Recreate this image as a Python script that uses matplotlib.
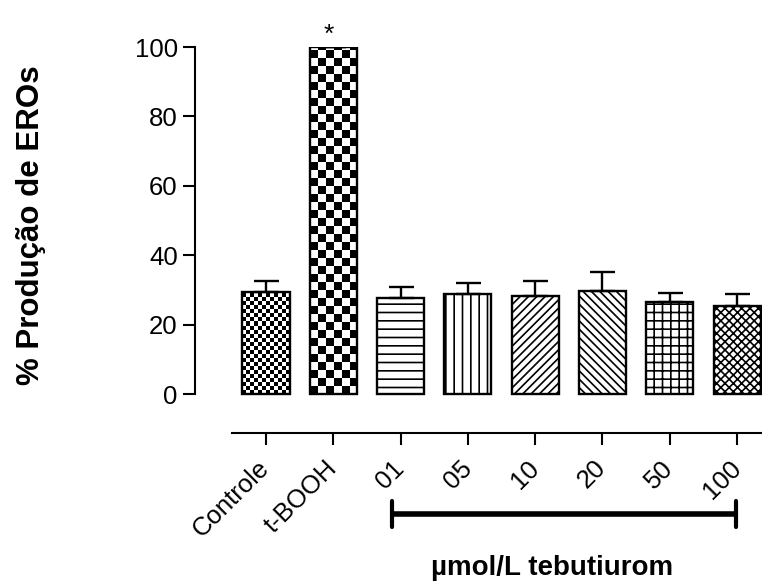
import numpy as np
import matplotlib
matplotlib.use("Agg")
import matplotlib.pyplot as plt
import matplotlib.transforms as mtransforms

categories = ["Controle", "t-BOOH", "01", "05", "10", "20", "50", "100"]
means = [29.4, 100.0, 27.7, 28.8, 28.2, 29.7, 26.5, 25.4]
errors = [3.2, 0.0, 3.1, 3.2, 4.4, 5.5, 2.6, 3.4]
hatches = [None, None, "--", "||", "////", "\\\\\\\\", "++", "xxxx"]
group_label = "µmol/L tebutiurom"
ylabel = "% Produção de EROs"

plt.rcParams['font.family'] = ['Liberation Sans', 'DejaVu Sans']
plt.rcParams['hatch.linewidth'] = 1.2

fig = plt.figure(figsize=(7.62, 5.85), dpi=100)
ax = fig.add_axes([195/762, 1-433/585, 1-195/762, (433-47)/585])

x = np.arange(len(categories))
width = 0.70
bars = ax.bar(x, means, width=width, facecolor='none', edgecolor='black',
              linewidth=1.7, zorder=3)
for b, h in zip(bars, hatches):
    if h:
        b.set_hatch(h)

# checker patterns for first two bars
def checker(bar, ncols, cell_h):
    x0 = bar.get_x()
    w = bar.get_width()
    hgt = bar.get_height()
    nrows = int(np.ceil(hgt / cell_h)) + 1
    pat = (np.add.outer(np.arange(nrows), np.arange(ncols)) % 2).astype(float)
    im = ax.imshow(pat, cmap='gray', vmin=0, vmax=1, interpolation='nearest',
                   extent=(x0, x0 + w, 0, nrows * cell_h), origin='lower',
                   aspect='auto', zorder=2)
    im.set_clip_path(bar)

checker(bars[0], 12, 1.15)
checker(bars[1], 6, 2.3)

ax.errorbar(x, means, yerr=[np.zeros(len(errors)), errors], fmt='none',
            ecolor='black', elinewidth=1.7, capsize=9, capthick=1.7, zorder=4)

ax.set_xlim(-1.055, 7.37)
ax.set_ylim(-11.2, 100)
ax.spines['top'].set_visible(False)
ax.spines['right'].set_visible(False)
ax.spines['left'].set_bounds(0, 100)
ax.spines['bottom'].set_bounds(-0.505, 7.37)
for s in ('left', 'bottom'):
    ax.spines[s].set_linewidth(1.5)

ax.set_yticks([0, 20, 40, 60, 80, 100])
ax.set_xticks(x)
ax.set_xticklabels(categories, rotation=45, ha='right', va='center',
                   rotation_mode='anchor')
ax.tick_params(axis='both', labelsize=18.5, width=1.5, length=8.5, direction='out')
ax.tick_params(axis='y', pad=4)
ax.tick_params(axis='x', pad=14)

ax.set_ylabel(ylabel, fontsize=22.5, fontweight='bold')
ax.yaxis.set_label_coords(-0.262, 0.539)

ax.text(x[1] - 0.07, 100, "*", ha='center', va='bottom', fontsize=19,
        transform=ax.transData, clip_on=False)

# group bracket
trans = mtransforms.blended_transform_factory(fig.transFigure, fig.transFigure)
yb = 1 - 514/585
ax.plot([392/762, 736/762], [yb, yb], color='black', lw=4, transform=trans,
        clip_on=False, solid_capstyle='butt')
for xp in (392, 736):
    ax.plot([xp/762, xp/762], [1 - 501/585, 1 - 527/585], color='black', lw=3,
            transform=trans, clip_on=False, solid_capstyle='round')
ax.text(552/762, 1 - 568/585, group_label, ha='center', va='center',
        fontsize=20, fontweight='bold', transform=trans)

fig.savefig("out.png", dpi=100)
